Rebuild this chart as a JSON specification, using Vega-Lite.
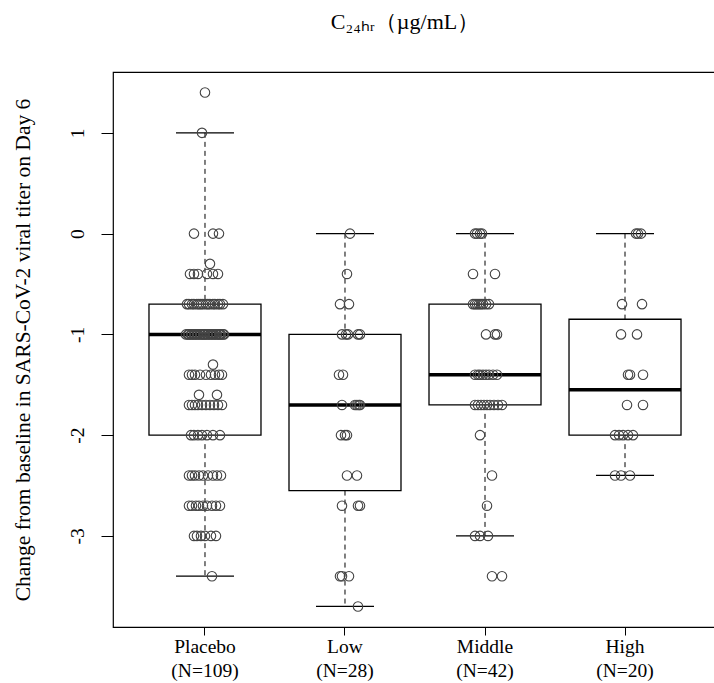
{
 "$schema": "https://vega.github.io/schema/vega-lite/v6.json",
 "width": 604,
 "height": 555,
 "autosize": {"type": "none"},
 "padding": {"left": 113, "top": 72, "right": 0, "bottom": 56},
 "background": "white",
 "config": {"view": {"stroke": "black", "strokeWidth": 1.2}, "font": "Liberation Serif"},
 "title": {"text": "C₂₄ₕᵣ（µg/mL）", "font": "Liberation Serif", "fontSize": 22, "fontWeight": "normal", "color": "black", "offset": 38, "dx": -10},
 "datasets": {
  "box": [
   {"g": "Placebo", "upper": 1.0, "q3": -0.7, "med": -1.0, "q1": -2.0, "lower": -3.4},
   {"g": "Low", "upper": 0.0, "q3": -1.0, "med": -1.7, "q1": -2.55, "lower": -3.7},
   {"g": "Middle", "upper": 0.0, "q3": -0.7, "med": -1.4, "q1": -1.7, "lower": -3.0},
   {"g": "High", "upper": 0.0, "q3": -0.85, "med": -1.55, "q1": -2.0, "lower": -2.4}
  ],
  "pts": [
   {"g":"Placebo","v":1.4,"j":0},
   {"g":"Placebo","v":1.0,"j":-3},
   {"g":"Placebo","v":0,"j":-11},{"g":"Placebo","v":0,"j":8},{"g":"Placebo","v":0,"j":14},
   {"g":"Placebo","v":-0.3,"j":5},
   {"g":"Placebo","v":-0.4,"j":-15},{"g":"Placebo","v":-0.4,"j":-11},{"g":"Placebo","v":-0.4,"j":-7},{"g":"Placebo","v":-0.4,"j":2},{"g":"Placebo","v":-0.4,"j":8},{"g":"Placebo","v":-0.4,"j":13},
   {"g":"Placebo","v":-0.7,"j":-18},{"g":"Placebo","v":-0.7,"j":-16},{"g":"Placebo","v":-0.7,"j":-13},{"g":"Placebo","v":-0.7,"j":-11},{"g":"Placebo","v":-0.7,"j":-8},{"g":"Placebo","v":-0.7,"j":-6},{"g":"Placebo","v":-0.7,"j":-4},{"g":"Placebo","v":-0.7,"j":-2},{"g":"Placebo","v":-0.7,"j":1},{"g":"Placebo","v":-0.7,"j":3},{"g":"Placebo","v":-0.7,"j":5},{"g":"Placebo","v":-0.7,"j":8},{"g":"Placebo","v":-0.7,"j":10},{"g":"Placebo","v":-0.7,"j":13},{"g":"Placebo","v":-0.7,"j":15},{"g":"Placebo","v":-0.7,"j":18},
   {"g":"Placebo","v":-1.0,"j":-19},{"g":"Placebo","v":-1.0,"j":-17},{"g":"Placebo","v":-1.0,"j":-16},{"g":"Placebo","v":-1.0,"j":-14},{"g":"Placebo","v":-1.0,"j":-13},{"g":"Placebo","v":-1.0,"j":-11},{"g":"Placebo","v":-1.0,"j":-10},{"g":"Placebo","v":-1.0,"j":-8},{"g":"Placebo","v":-1.0,"j":-7},{"g":"Placebo","v":-1.0,"j":-5},{"g":"Placebo","v":-1.0,"j":-4},{"g":"Placebo","v":-1.0,"j":-2},{"g":"Placebo","v":-1.0,"j":-1},{"g":"Placebo","v":-1.0,"j":0},{"g":"Placebo","v":-1.0,"j":2},{"g":"Placebo","v":-1.0,"j":3},{"g":"Placebo","v":-1.0,"j":5},{"g":"Placebo","v":-1.0,"j":6},{"g":"Placebo","v":-1.0,"j":8},{"g":"Placebo","v":-1.0,"j":9},{"g":"Placebo","v":-1.0,"j":11},{"g":"Placebo","v":-1.0,"j":12},{"g":"Placebo","v":-1.0,"j":14},{"g":"Placebo","v":-1.0,"j":15},{"g":"Placebo","v":-1.0,"j":16},{"g":"Placebo","v":-1.0,"j":18},{"g":"Placebo","v":-1.0,"j":19},
   {"g":"Placebo","v":-1.3,"j":8},
   {"g":"Placebo","v":-1.4,"j":-16},{"g":"Placebo","v":-1.4,"j":-13},{"g":"Placebo","v":-1.4,"j":-10},{"g":"Placebo","v":-1.4,"j":-5},{"g":"Placebo","v":-1.4,"j":1},{"g":"Placebo","v":-1.4,"j":6},{"g":"Placebo","v":-1.4,"j":10},{"g":"Placebo","v":-1.4,"j":14},{"g":"Placebo","v":-1.4,"j":17},
   {"g":"Placebo","v":-1.6,"j":-6},{"g":"Placebo","v":-1.6,"j":12},
   {"g":"Placebo","v":-1.7,"j":-16},{"g":"Placebo","v":-1.7,"j":-13},{"g":"Placebo","v":-1.7,"j":-10},{"g":"Placebo","v":-1.7,"j":-7},{"g":"Placebo","v":-1.7,"j":-3},{"g":"Placebo","v":-1.7,"j":1},{"g":"Placebo","v":-1.7,"j":5},{"g":"Placebo","v":-1.7,"j":9},{"g":"Placebo","v":-1.7,"j":13},{"g":"Placebo","v":-1.7,"j":17},
   {"g":"Placebo","v":-2.0,"j":-14},{"g":"Placebo","v":-2.0,"j":-11},{"g":"Placebo","v":-2.0,"j":-7},{"g":"Placebo","v":-2.0,"j":-3},{"g":"Placebo","v":-2.0,"j":2},{"g":"Placebo","v":-2.0,"j":8},{"g":"Placebo","v":-2.0,"j":15},
   {"g":"Placebo","v":-2.4,"j":-16},{"g":"Placebo","v":-2.4,"j":-13},{"g":"Placebo","v":-2.4,"j":-10},{"g":"Placebo","v":-2.4,"j":-6},{"g":"Placebo","v":-2.4,"j":-2},{"g":"Placebo","v":-2.4,"j":3},{"g":"Placebo","v":-2.4,"j":8},{"g":"Placebo","v":-2.4,"j":12},{"g":"Placebo","v":-2.4,"j":16},
   {"g":"Placebo","v":-2.7,"j":-16},{"g":"Placebo","v":-2.7,"j":-13},{"g":"Placebo","v":-2.7,"j":-9},{"g":"Placebo","v":-2.7,"j":-6},{"g":"Placebo","v":-2.7,"j":-2},{"g":"Placebo","v":-2.7,"j":2},{"g":"Placebo","v":-2.7,"j":7},{"g":"Placebo","v":-2.7,"j":11},{"g":"Placebo","v":-2.7,"j":15},
   {"g":"Placebo","v":-3.0,"j":-11},{"g":"Placebo","v":-3.0,"j":-8},{"g":"Placebo","v":-3.0,"j":-4},{"g":"Placebo","v":-3.0,"j":0},{"g":"Placebo","v":-3.0,"j":6},{"g":"Placebo","v":-3.0,"j":11},
   {"g":"Placebo","v":-3.4,"j":7},
   {"g":"Low","v":0,"j":5},
   {"g":"Low","v":-0.4,"j":2},
   {"g":"Low","v":-0.7,"j":-5},{"g":"Low","v":-0.7,"j":4},
   {"g":"Low","v":-1.0,"j":-3},{"g":"Low","v":-1.0,"j":1},{"g":"Low","v":-1.0,"j":3},{"g":"Low","v":-1.0,"j":13},{"g":"Low","v":-1.0,"j":15},
   {"g":"Low","v":-1.4,"j":-6},{"g":"Low","v":-1.4,"j":-2},
   {"g":"Low","v":-1.7,"j":-3},{"g":"Low","v":-1.7,"j":10},{"g":"Low","v":-1.7,"j":12},{"g":"Low","v":-1.7,"j":14},{"g":"Low","v":-1.7,"j":15},
   {"g":"Low","v":-2.0,"j":-4},{"g":"Low","v":-2.0,"j":0},{"g":"Low","v":-2.0,"j":2},
   {"g":"Low","v":-2.4,"j":2},{"g":"Low","v":-2.4,"j":12},
   {"g":"Low","v":-2.7,"j":-3},{"g":"Low","v":-2.7,"j":13},{"g":"Low","v":-2.7,"j":15},
   {"g":"Low","v":-3.4,"j":-5},{"g":"Low","v":-3.4,"j":-3},{"g":"Low","v":-3.4,"j":4},
   {"g":"Low","v":-3.7,"j":13},
   {"g":"Middle","v":0,"j":-10},{"g":"Middle","v":0,"j":-8},{"g":"Middle","v":0,"j":-5},{"g":"Middle","v":0,"j":-3},
   {"g":"Middle","v":-0.4,"j":-12},{"g":"Middle","v":-0.4,"j":10},
   {"g":"Middle","v":-0.7,"j":-12},{"g":"Middle","v":-0.7,"j":-10},{"g":"Middle","v":-0.7,"j":-8},{"g":"Middle","v":-0.7,"j":-6},{"g":"Middle","v":-0.7,"j":-4},{"g":"Middle","v":-0.7,"j":-2},{"g":"Middle","v":-0.7,"j":1},{"g":"Middle","v":-0.7,"j":4},
   {"g":"Middle","v":-1.0,"j":1},{"g":"Middle","v":-1.0,"j":10},{"g":"Middle","v":-1.0,"j":12},
   {"g":"Middle","v":-1.4,"j":-10},{"g":"Middle","v":-1.4,"j":-7},{"g":"Middle","v":-1.4,"j":-5},{"g":"Middle","v":-1.4,"j":-2},{"g":"Middle","v":-1.4,"j":1},{"g":"Middle","v":-1.4,"j":4},{"g":"Middle","v":-1.4,"j":8},{"g":"Middle","v":-1.4,"j":12},
   {"g":"Middle","v":-1.7,"j":-10},{"g":"Middle","v":-1.7,"j":-7},{"g":"Middle","v":-1.7,"j":-4},{"g":"Middle","v":-1.7,"j":-1},{"g":"Middle","v":-1.7,"j":2},{"g":"Middle","v":-1.7,"j":5},{"g":"Middle","v":-1.7,"j":9},{"g":"Middle","v":-1.7,"j":13},{"g":"Middle","v":-1.7,"j":17},
   {"g":"Middle","v":-2.0,"j":-5},
   {"g":"Middle","v":-2.4,"j":7},
   {"g":"Middle","v":-2.7,"j":2},
   {"g":"Middle","v":-3.0,"j":-10},{"g":"Middle","v":-3.0,"j":-5},{"g":"Middle","v":-3.0,"j":3},
   {"g":"Middle","v":-3.4,"j":7},{"g":"Middle","v":-3.4,"j":17},
   {"g":"High","v":0,"j":11},{"g":"High","v":0,"j":13},{"g":"High","v":0,"j":16},
   {"g":"High","v":-0.7,"j":-3},{"g":"High","v":-0.7,"j":17},
   {"g":"High","v":-1.0,"j":-4},{"g":"High","v":-1.0,"j":12},
   {"g":"High","v":-1.4,"j":3},{"g":"High","v":-1.4,"j":5},{"g":"High","v":-1.4,"j":18},
   {"g":"High","v":-1.7,"j":2},{"g":"High","v":-1.7,"j":18},
   {"g":"High","v":-2.0,"j":-10},{"g":"High","v":-2.0,"j":-6},{"g":"High","v":-2.0,"j":-2},{"g":"High","v":-2.0,"j":3},{"g":"High","v":-2.0,"j":8},
   {"g":"High","v":-2.4,"j":-10},{"g":"High","v":-2.4,"j":-4},{"g":"High","v":-2.4,"j":5}
  ]
 },
 "encoding": {
  "x": {
   "field": "g", "type": "nominal",
   "scale": {"type": "band", "domain": ["Placebo", "Low", "Middle", "High"], "paddingInner": 0.2, "paddingOuter": 0.257},
   "axis": {
    "title": null, "domain": false, "grid": false,
    "ticks": true, "tickSize": 8, "tickColor": "black", "tickWidth": 1,
    "labelAngle": 0, "labelFont": "Liberation Serif", "labelFontSize": 19.5, "labelColor": "black",
    "labelPadding": 2, "labelLineHeight": 24,
    "labelExpr": "datum.label == 'Placebo' ? ['Placebo', '(N=109)'] : datum.label == 'Low' ? ['Low', '(N=28)'] : datum.label == 'Middle' ? ['Middle', '(N=42)'] : ['High', '(N=20)']"
   }
  }
 },
 "layer": [
  {
   "data": {"name": "box"},
   "mark": {"type": "rule", "color": "black", "strokeWidth": 1, "strokeDash": [5, 4]},
   "encoding": {
    "y": {"field": "upper", "type": "quantitative",
     "scale": {"domain": [-3.904, 1.604], "nice": false, "zero": false},
     "axis": {
      "title": "Change from baseline in SARS-CoV-2 viral titer on Day 6",
      "titleFont": "Liberation Serif", "titleFontSize": 21.5, "titleFontWeight": "normal", "titleColor": "black", "titlePadding": 33,
      "values": [-3, -2, -1, 0, 1], "grid": false, "domain": false,
      "tickSize": 12, "tickColor": "black", "tickWidth": 1,
      "labelAngle": -90, "labelAlign": "center", "labelBaseline": "bottom", "labelPadding": 14,
      "labelExpr": "datum.value < 0 ? '-' + abs(datum.value) : '' + datum.value",
      "labelFont": "Liberation Serif", "labelFontSize": 19.5, "labelColor": "black"
     }},
    "y2": {"field": "q3"}
   }
  },
  {
   "data": {"name": "box"},
   "mark": {"type": "rule", "color": "black", "strokeWidth": 1, "strokeDash": [5, 4]},
   "encoding": {
    "y": {"field": "q1", "type": "quantitative"},
    "y2": {"field": "lower"}
   }
  },
  {
   "data": {"name": "box"},
   "mark": {"type": "bar", "filled": false, "color": "black", "strokeWidth": 1.3, "width": 112},
   "encoding": {
    "y": {"field": "q3", "type": "quantitative"},
    "y2": {"field": "q1"}
   }
  },
  {
   "data": {"name": "box"},
   "mark": {"type": "tick", "color": "black", "opacity": 1, "size": 112, "thickness": 3.5},
   "encoding": {"y": {"field": "med", "type": "quantitative"}}
  },
  {
   "data": {"name": "box"},
   "mark": {"type": "tick", "color": "black", "opacity": 1, "size": 58, "thickness": 1.2},
   "encoding": {"y": {"field": "upper", "type": "quantitative"}}
  },
  {
   "data": {"name": "box"},
   "mark": {"type": "tick", "color": "black", "opacity": 1, "size": 58, "thickness": 1.2},
   "encoding": {"y": {"field": "lower", "type": "quantitative"}}
  },
  {
   "data": {"name": "pts"},
   "mark": {"type": "point", "filled": false, "size": 90, "strokeWidth": 1.1, "color": "#444444", "opacity": 1},
   "encoding": {
    "y": {"field": "v", "type": "quantitative"},
    "xOffset": {"field": "j", "type": "quantitative", "scale": {"domain": [-56, 56], "range": [0, 112]}}
   }
  }
 ]
}
